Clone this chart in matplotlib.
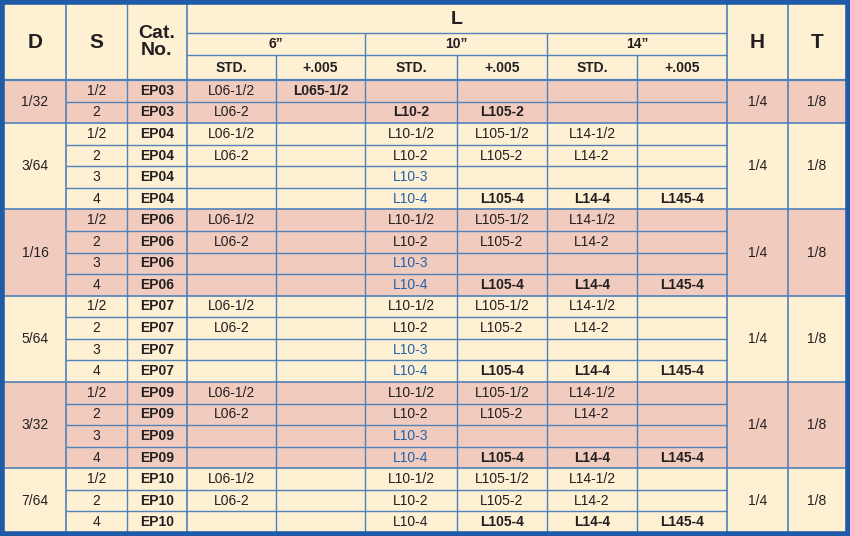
import matplotlib.pyplot as plt
from matplotlib.patches import Rectangle

plt.rcParams['font.family'] = ['Liberation Sans Narrow', 'Liberation Sans', 'DejaVu Sans']

# '*' prefix = bold text, '~' prefix = blue text
d_values = ["1/32", "3/64", "1/16", "5/64", "3/32", "7/64"]
h_values = ["1/4"] * 6
t_values = ["1/8"] * 6
groups = [
    [["1/2", "EP03", "L06-1/2", "*L065-1/2", "", "", "", ""],
     ["2", "EP03", "L06-2", "", "*L10-2", "*L105-2", "", ""]],
    [["1/2", "EP04", "L06-1/2", "", "L10-1/2", "L105-1/2", "L14-1/2", ""],
     ["2", "EP04", "L06-2", "", "L10-2", "L105-2", "L14-2", ""],
     ["3", "EP04", "", "", "~L10-3", "", "", ""],
     ["4", "EP04", "", "", "~L10-4", "*L105-4", "*L14-4", "*L145-4"]],
    [["1/2", "EP06", "L06-1/2", "", "L10-1/2", "L105-1/2", "L14-1/2", ""],
     ["2", "EP06", "L06-2", "", "L10-2", "L105-2", "L14-2", ""],
     ["3", "EP06", "", "", "~L10-3", "", "", ""],
     ["4", "EP06", "", "", "~L10-4", "*L105-4", "*L14-4", "*L145-4"]],
    [["1/2", "EP07", "L06-1/2", "", "L10-1/2", "L105-1/2", "L14-1/2", ""],
     ["2", "EP07", "L06-2", "", "L10-2", "L105-2", "L14-2", ""],
     ["3", "EP07", "", "", "~L10-3", "", "", ""],
     ["4", "EP07", "", "", "~L10-4", "*L105-4", "*L14-4", "*L145-4"]],
    [["1/2", "EP09", "L06-1/2", "", "L10-1/2", "L105-1/2", "L14-1/2", ""],
     ["2", "EP09", "L06-2", "", "L10-2", "L105-2", "L14-2", ""],
     ["3", "EP09", "", "", "~L10-3", "", "", ""],
     ["4", "EP09", "", "", "~L10-4", "*L105-4", "*L14-4", "*L145-4"]],
    [["1/2", "EP10", "L06-1/2", "", "L10-1/2", "L105-1/2", "L14-1/2", ""],
     ["2", "EP10", "L06-2", "", "L10-2", "L105-2", "L14-2", ""],
     ["4", "EP10", "", "", "L10-4", "*L105-4", "*L14-4", "*L145-4"]],
]
lengths = ['6\u201d', '10\u201d', '14\u201d']
sub_heads = ["STD.", "+.005"]

xs = [4, 66, 127, 187, 276, 365, 457, 547, 637, 727, 788, 846]
cream, pink = '#FEF0D3', '#F1CCBE'
line_c, border_c = '#4F81BA', '#1F5BA6'
txt = '#231F20'
blue_txt = '#2162AE'

fig = plt.figure(figsize=(8.5, 5.36), dpi=100)
ax = fig.add_axes([0, 0, 1, 1])
ax.set_xlim(0, 850)
ax.set_ylim(536, 0)
ax.axis('off')

def cx(i, j=None):
    j = i + 1 if j is None else j
    return (xs[i] + xs[j]) / 2

def line(x0, x1, y0, y1, lw=1.0, c=line_c):
    ax.plot([x0, x1], [y0, y1], color=c, lw=lw, solid_capstyle='butt')

ax.add_patch(Rectangle((0, 0), 850, 536, color=cream, zorder=0))

top, y1, y2, head_bot = 4, 33, 55, 80
n_rows = sum(len(g) for g in groups)
rh = (533 - head_bot) / n_rows

# header text
ax.text(cx(0), (top + head_bot) / 2, "D", ha='center', va='center', fontsize=15, weight='bold', color=txt)
ax.text(cx(1), (top + head_bot) / 2, "S", ha='center', va='center', fontsize=15, weight='bold', color=txt)
ax.text(cx(2), (top + head_bot) / 2, "Cat.\nNo.", ha='center', va='center', fontsize=14, weight='bold', color=txt, linespacing=1.0)
ax.text(cx(3, 9), (top + y1) / 2 + 1, "L", ha='center', va='center', fontsize=14, weight='bold', color=txt)
ax.text(cx(9), (top + head_bot) / 2, "H", ha='center', va='center', fontsize=15, weight='bold', color=txt)
ax.text(cx(10), (top + head_bot) / 2, "T", ha='center', va='center', fontsize=15, weight='bold', color=txt)
for k, lab in enumerate(lengths):
    ax.text(cx(3 + 2 * k, 5 + 2 * k), (y1 + y2) / 2, lab, ha='center', va='center', fontsize=10, weight='bold', color=txt)
    for m, sh in enumerate(sub_heads):
        ax.text(cx(3 + 2 * k + m), (y2 + head_bot) / 2, sh, ha='center', va='center', fontsize=10, weight='bold', color=txt)

line(xs[3], xs[9], y1, y1)
line(xs[3], xs[9], y2, y2)
for k in range(3):
    line(xs[4 + 2 * k], xs[4 + 2 * k], y2, head_bot)
for k in range(1, 3):
    line(xs[3 + 2 * k], xs[3 + 2 * k], y1, head_bot)

y = head_bot
for gi, g in enumerate(groups):
    gh = rh * len(g)
    ax.add_patch(Rectangle((0, y), 850, gh, color=pink if gi % 2 == 0 else cream, zorder=0))
    ax.text(cx(0), y + gh / 2, d_values[gi], ha='center', va='center', fontsize=10, color=txt)
    ax.text(cx(9), y + gh / 2, h_values[gi], ha='center', va='center', fontsize=10, color=txt)
    ax.text(cx(10), y + gh / 2, t_values[gi], ha='center', va='center', fontsize=10, color=txt)
    for ri, row in enumerate(g):
        yc = y + rh * (ri + 0.5)
        for ci, val in enumerate(row):
            if not val:
                continue
            weight, color = 'normal', txt
            if val.startswith('*'):
                val, weight = val[1:], 'bold'
            elif val.startswith('~'):
                val, color = val[1:], blue_txt
            if ci == 1:
                weight = 'bold'
            ax.text(cx(ci + 1), yc, val, ha='center', va='center', fontsize=10, weight=weight, color=color)
        if ri > 0:
            line(xs[1], xs[9], y + rh * ri, y + rh * ri)
    line(0, 850, y, y, lw=1.6 if gi == 0 else 1.2)
    y += gh

for i in range(1, 11):
    y_start = head_bot if 3 < i < 9 and i not in () else top
    if i in (4, 5, 6, 7, 8):
        y_start = head_bot
    line(xs[i], xs[i], y_start, 536, lw=1.2 if i in (1, 3, 9, 10) else 1.0)

# outer border
ax.add_patch(Rectangle((2, 2), 846, 532, fill=False, edgecolor=border_c, lw=4, zorder=5))

fig.savefig('out.png', dpi=100)
